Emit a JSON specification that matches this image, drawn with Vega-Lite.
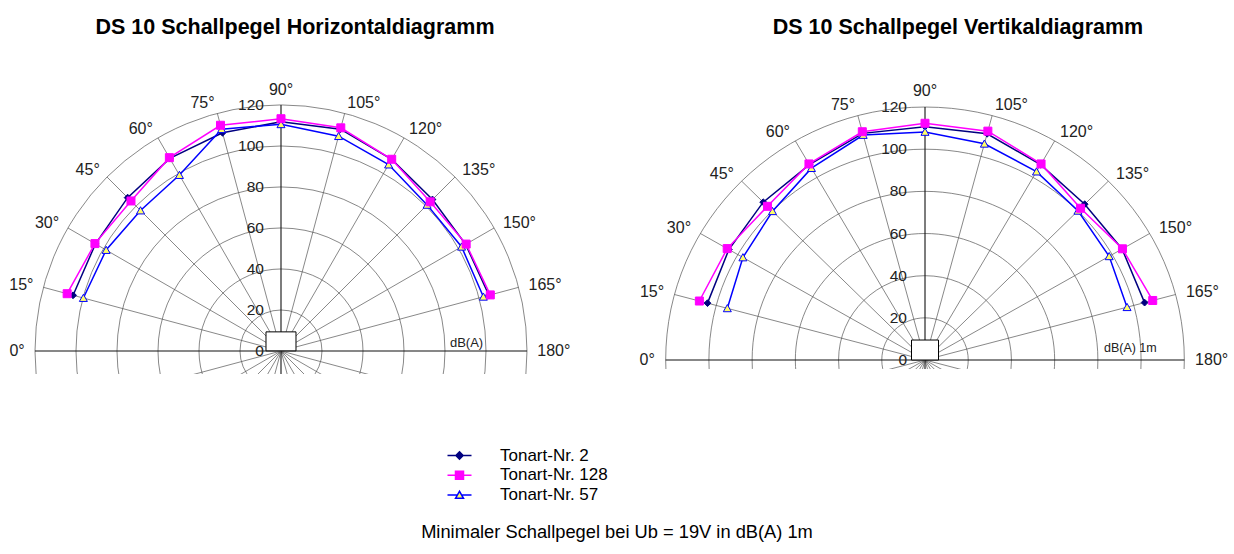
{
  "$schema": "https://vega.github.io/schema/vega-lite/v6.json",
  "padding": {"left": 0, "top": 16, "right": 0, "bottom": 0},
  "background": "white",
  "bounds": "flush",
  "spacing": 60,
  "config": {
    "view": {"stroke": null},
    "font": "Liberation Sans",
    "legend": {
      "orient": "none", "legendX": 451, "legendY": 386, "padding": 0,
      "labelFont": "Liberation Sans", "labelFontSize": 17, "labelColor": "black",
      "symbolSize": 64, "symbolStrokeWidth": 1.5, "symbolOpacity": 1,
      "labelOffset": 32, "rowPadding": 1.8
    }
  },
  "title": {"text": "Minimaler Schallpegel bei Ub = 19V in dB(A) 1m", "orient": "bottom", "anchor": "middle", "font": "Liberation Sans", "fontSize": 18.3, "fontWeight": "normal", "color": "black", "offset": 20},
  "resolve": {"scale": {"size": "independent"}},
  "datasets": {
    "rings": [{"r": 0}, {"r": 20}, {"r": 40}, {"r": 60}, {"r": 80}, {"r": 100}, {"r": 120}],
    "spokes": [{"angle": 0}, {"angle": 15}, {"angle": 30}, {"angle": 45}, {"angle": 60}, {"angle": 75}, {"angle": 90}, {"angle": 105}, {"angle": 120}, {"angle": 135}, {"angle": 150}, {"angle": 165}, {"angle": 180}, {"angle": 195}, {"angle": 210}, {"angle": 225}, {"angle": 240}, {"angle": 255}, {"angle": 270}, {"angle": 285}, {"angle": 300}, {"angle": 315}, {"angle": 330}, {"angle": 345}],
    "angles": [{"angle": 0, "label": "0°"}, {"angle": 15, "label": "15°"}, {"angle": 30, "label": "30°"}, {"angle": 45, "label": "45°"}, {"angle": 60, "label": "60°"}, {"angle": 75, "label": "75°"}, {"angle": 90, "label": "90°"}, {"angle": 105, "label": "105°"}, {"angle": 120, "label": "120°"}, {"angle": 135, "label": "135°"}, {"angle": 150, "label": "150°"}, {"angle": 165, "label": "165°"}, {"angle": 180, "label": "180°"}],
    "horizontal": [
      {"series": "Tonart-Nr. 2", "angle": 15, "db": 105.0}, {"series": "Tonart-Nr. 2", "angle": 30, "db": 104.5}, {"series": "Tonart-Nr. 2", "angle": 45, "db": 105.8}, {"series": "Tonart-Nr. 2", "angle": 60, "db": 108.5}, {"series": "Tonart-Nr. 2", "angle": 75, "db": 110.2}, {"series": "Tonart-Nr. 2", "angle": 90, "db": 111.8}, {"series": "Tonart-Nr. 2", "angle": 105, "db": 112.0}, {"series": "Tonart-Nr. 2", "angle": 120, "db": 108.0}, {"series": "Tonart-Nr. 2", "angle": 135, "db": 104.5}, {"series": "Tonart-Nr. 2", "angle": 150, "db": 104.0}, {"series": "Tonart-Nr. 2", "angle": 165, "db": 105.0},
      {"series": "Tonart-Nr. 57", "angle": 15, "db": 99.8}, {"series": "Tonart-Nr. 57", "angle": 30, "db": 98.5}, {"series": "Tonart-Nr. 57", "angle": 45, "db": 96.9}, {"series": "Tonart-Nr. 57", "angle": 60, "db": 99.1}, {"series": "Tonart-Nr. 57", "angle": 75, "db": 112.0}, {"series": "Tonart-Nr. 57", "angle": 90, "db": 110.6}, {"series": "Tonart-Nr. 57", "angle": 105, "db": 108.5}, {"series": "Tonart-Nr. 57", "angle": 120, "db": 105.0}, {"series": "Tonart-Nr. 57", "angle": 135, "db": 100.8}, {"series": "Tonart-Nr. 57", "angle": 150, "db": 101.7}, {"series": "Tonart-Nr. 57", "angle": 165, "db": 102.2},
      {"series": "Tonart-Nr. 128", "angle": 15, "db": 108.0}, {"series": "Tonart-Nr. 128", "angle": 30, "db": 104.8}, {"series": "Tonart-Nr. 128", "angle": 45, "db": 103.5}, {"series": "Tonart-Nr. 128", "angle": 60, "db": 108.9}, {"series": "Tonart-Nr. 128", "angle": 75, "db": 114.0}, {"series": "Tonart-Nr. 128", "angle": 90, "db": 113.3}, {"series": "Tonart-Nr. 128", "angle": 105, "db": 112.7}, {"series": "Tonart-Nr. 128", "angle": 120, "db": 108.0}, {"series": "Tonart-Nr. 128", "angle": 135, "db": 102.9}, {"series": "Tonart-Nr. 128", "angle": 150, "db": 104.3}, {"series": "Tonart-Nr. 128", "angle": 165, "db": 105.7}
    ],
    "vertical": [
      {"series": "Tonart-Nr. 2", "angle": 15, "db": 104.2}, {"series": "Tonart-Nr. 2", "angle": 30, "db": 104.8}, {"series": "Tonart-Nr. 2", "angle": 45, "db": 105.9}, {"series": "Tonart-Nr. 2", "angle": 60, "db": 107.0}, {"series": "Tonart-Nr. 2", "angle": 75, "db": 111.3}, {"series": "Tonart-Nr. 2", "angle": 90, "db": 110.7}, {"series": "Tonart-Nr. 2", "angle": 105, "db": 111.1}, {"series": "Tonart-Nr. 2", "angle": 120, "db": 107.0}, {"series": "Tonart-Nr. 2", "angle": 135, "db": 104.5}, {"series": "Tonart-Nr. 2", "angle": 150, "db": 105.3}, {"series": "Tonart-Nr. 2", "angle": 165, "db": 105.2},
      {"series": "Tonart-Nr. 57", "angle": 15, "db": 94.7}, {"series": "Tonart-Nr. 57", "angle": 30, "db": 97.3}, {"series": "Tonart-Nr. 57", "angle": 45, "db": 99.8}, {"series": "Tonart-Nr. 57", "angle": 60, "db": 105.1}, {"series": "Tonart-Nr. 57", "angle": 75, "db": 110.5}, {"series": "Tonart-Nr. 57", "angle": 90, "db": 108.2}, {"series": "Tonart-Nr. 57", "angle": 105, "db": 106.2}, {"series": "Tonart-Nr. 57", "angle": 120, "db": 103.2}, {"series": "Tonart-Nr. 57", "angle": 135, "db": 100.1}, {"series": "Tonart-Nr. 57", "angle": 150, "db": 98.4}, {"series": "Tonart-Nr. 57", "angle": 165, "db": 96.8},
      {"series": "Tonart-Nr. 128", "angle": 15, "db": 108.1}, {"series": "Tonart-Nr. 128", "angle": 30, "db": 105.7}, {"series": "Tonart-Nr. 128", "angle": 45, "db": 103.1}, {"series": "Tonart-Nr. 128", "angle": 60, "db": 107.4}, {"series": "Tonart-Nr. 128", "angle": 75, "db": 112.1}, {"series": "Tonart-Nr. 128", "angle": 90, "db": 112.3}, {"series": "Tonart-Nr. 128", "angle": 105, "db": 112.4}, {"series": "Tonart-Nr. 128", "angle": 120, "db": 107.4}, {"series": "Tonart-Nr. 128", "angle": 135, "db": 101.8}, {"series": "Tonart-Nr. 128", "angle": 150, "db": 105.5}, {"series": "Tonart-Nr. 128", "angle": 165, "db": 109.1}
    ]
  },
  "hconcat": [
    {
      "width": 590, "height": 313,
      "title": {"text": "DS 10 Schallpegel Horizontaldiagramm", "anchor": "middle", "frame": "group", "font": "Liberation Sans", "fontSize": 21.5, "fontWeight": "bold", "color": "black", "baseline": "alphabetic", "offset": 6},
      "layer": [
        {
          "data": {"name": "rings"},
          "mark": {"type": "point", "shape": "circle", "filled": false, "stroke": "#555", "strokeWidth": 0.7, "opacity": 1, "clip": true},
          "encoding": {
            "x": {"datum": 0, "type": "quantitative", "scale": {"domain": [-137.073, 150.732], "nice": false, "zero": false}, "axis": null},
            "y": {"datum": 0, "type": "quantitative", "scale": {"domain": [-11.22, 141.46], "nice": false, "zero": false}, "axis": null},
            "size": {"field": "r", "type": "quantitative", "scale": {"type": "pow", "exponent": 2, "domain": [0, 120], "range": [0, 242064]}, "legend": null}
          }
        },
        {
          "data": {"name": "spokes"},
          "transform": [{"calculate": "-120*cos(datum.angle*PI/180)", "as": "sx"}, {"calculate": "120*sin(datum.angle*PI/180)", "as": "sy"}],
          "mark": {"type": "rule", "clip": true},
          "encoding": {
            "x": {"field": "sx", "type": "quantitative"}, "y": {"field": "sy", "type": "quantitative"},
            "x2": {"datum": 0}, "y2": {"datum": 0},
            "color": {"condition": {"test": "datum.angle % 90 === 0", "value": "#111"}, "value": "#555"},
            "strokeWidth": {"condition": {"test": "datum.angle % 90 === 0", "value": 1.1}, "value": 0.7}
          }
        },
        {
          "data": {"values": [{}]},
          "mark": {"type": "point", "shape": "M-1,-0.633H1V0.633H-1Z", "size": 900, "filled": true, "fill": "white", "stroke": "black", "strokeWidth": 1, "opacity": 1},
          "encoding": {"x": {"datum": 0, "type": "quantitative"}, "y": {"datum": 4.7, "type": "quantitative"}}
        },
        {
          "data": {"name": "rings"},
          "mark": {"type": "text", "align": "right", "baseline": "middle", "dx": -17, "fontSize": 15.5, "color": "#222"},
          "encoding": {"x": {"datum": 0, "type": "quantitative"}, "y": {"field": "r", "type": "quantitative"}, "text": {"field": "r", "type": "quantitative"}}
        },
        {
          "data": {"name": "angles"},
          "transform": [{"filter": "datum.angle < 90"}, {"calculate": "-125*cos(datum.angle*PI/180)", "as": "lx"}, {"calculate": "125*sin(datum.angle*PI/180)", "as": "ly"}],
          "mark": {"type": "text", "align": "right", "baseline": "middle", "fontSize": 16, "color": "#222"},
          "encoding": {"x": {"field": "lx", "type": "quantitative"}, "y": {"field": "ly", "type": "quantitative"}, "text": {"field": "label", "type": "nominal"}}
        },
        {
          "data": {"name": "angles"},
          "transform": [{"filter": "datum.angle == 90"}, {"calculate": "-125*cos(datum.angle*PI/180)", "as": "lx"}, {"calculate": "125*sin(datum.angle*PI/180)", "as": "ly"}],
          "mark": {"type": "text", "align": "center", "baseline": "alphabetic", "fontSize": 16, "color": "#222"},
          "encoding": {"x": {"field": "lx", "type": "quantitative"}, "y": {"field": "ly", "type": "quantitative"}, "text": {"field": "label", "type": "nominal"}}
        },
        {
          "data": {"name": "angles"},
          "transform": [{"filter": "datum.angle > 90"}, {"calculate": "-125*cos(datum.angle*PI/180)", "as": "lx"}, {"calculate": "125*sin(datum.angle*PI/180)", "as": "ly"}],
          "mark": {"type": "text", "align": "left", "baseline": "middle", "fontSize": 16, "color": "#222"},
          "encoding": {"x": {"field": "lx", "type": "quantitative"}, "y": {"field": "ly", "type": "quantitative"}, "text": {"field": "label", "type": "nominal"}}
        },
        {
          "data": {"values": [{}]},
          "mark": {"type": "text", "align": "left", "baseline": "middle", "fontSize": 13, "color": "#222", "text": "dB(A)"},
          "encoding": {"x": {"datum": 82.4, "type": "quantitative"}, "y": {"datum": 4, "type": "quantitative"}}
        },
        {
          "data": {"name": "horizontal"},
          "transform": [{"calculate": "-datum.db*cos(datum.angle*PI/180)", "as": "px"}, {"calculate": "datum.db*sin(datum.angle*PI/180)", "as": "py"}],
          "mark": {"type": "line", "strokeWidth": 1.5},
          "encoding": {
            "x": {"field": "px", "type": "quantitative"}, "y": {"field": "py", "type": "quantitative"},
            "order": {"field": "angle", "type": "quantitative"},
            "stroke": {"field": "series", "type": "nominal", "title": null, "scale": {"domain": ["Tonart-Nr. 2", "Tonart-Nr. 128", "Tonart-Nr. 57"], "range": ["#000080", "#ff00ff", "#0000ff"]}}
          }
        },
        {
          "data": {"name": "horizontal"},
          "transform": [{"filter": "datum.series === 'Tonart-Nr. 2'"}, {"calculate": "-datum.db*cos(datum.angle*PI/180)", "as": "px"}, {"calculate": "datum.db*sin(datum.angle*PI/180)", "as": "py"}],
          "mark": {"type": "point", "shape": "M0,-0.85L0.85,0L0,0.85L-0.85,0Z", "filled": true, "fill": "#000080", "stroke": "#000080", "opacity": 1, "strokeWidth": 1, "size": 64},
          "encoding": {"x": {"field": "px", "type": "quantitative"}, "y": {"field": "py", "type": "quantitative"}}
        },
        {
          "data": {"name": "horizontal"},
          "transform": [{"filter": "datum.series === 'Tonart-Nr. 57'"}, {"calculate": "-datum.db*cos(datum.angle*PI/180)", "as": "px"}, {"calculate": "datum.db*sin(datum.angle*PI/180)", "as": "py"}],
          "mark": {"type": "point", "shape": "M-1,0.85L0,-0.95L1,0.85Z", "filled": true, "fill": "#ffff66", "stroke": "#0000ff", "opacity": 1, "strokeWidth": 1, "size": 64},
          "encoding": {"x": {"field": "px", "type": "quantitative"}, "y": {"field": "py", "type": "quantitative"}}
        },
        {
          "data": {"name": "horizontal"},
          "transform": [{"filter": "datum.series === 'Tonart-Nr. 128'"}, {"calculate": "-datum.db*cos(datum.angle*PI/180)", "as": "px"}, {"calculate": "datum.db*sin(datum.angle*PI/180)", "as": "py"}],
          "mark": {"type": "point", "shape": "M-1,-1H1V1H-1Z", "filled": true, "fill": "#ff00ff", "stroke": "#ff00ff", "opacity": 1, "strokeWidth": 1, "size": 64},
          "encoding": {"x": {"field": "px", "type": "quantitative"}, "y": {"field": "py", "type": "quantitative"}}
        },
        {
          "data": {"name": "horizontal"},
          "transform": [{"filter": "false"}],
          "mark": {"type": "point", "filled": true, "opacity": 1, "strokeWidth": 1.5, "size": 64},
          "encoding": {
            "x": {"field": "angle", "type": "quantitative"}, "y": {"field": "db", "type": "quantitative"},
            "stroke": {"field": "series", "type": "nominal", "title": null, "scale": {"domain": ["Tonart-Nr. 2", "Tonart-Nr. 128", "Tonart-Nr. 57"], "range": ["#000080", "#ff00ff", "#0000ff"]}},
            "fill": {"field": "series", "type": "nominal", "title": null, "scale": {"domain": ["Tonart-Nr. 2", "Tonart-Nr. 128", "Tonart-Nr. 57"], "range": ["#000080", "#ff00ff", "#ffff66"]}},
            "shape": {"field": "series", "type": "nominal", "title": null, "scale": {"domain": ["Tonart-Nr. 2", "Tonart-Nr. 128", "Tonart-Nr. 57"], "range": ["M-3,0H3M0,-0.9L0.9,0L0,0.9L-0.9,0Z", "M-3,0H3M-1,-1H1V1H-1Z", "M-3,0H-0.54M0.54,0H3M-1,0.8L0,-0.95L1,0.8Z"]}}
          }
        }
      ]
    },
    {
      "width": 584, "height": 308,
      "title": {"text": "DS 10 Schallpegel Vertikaldiagramm", "anchor": "middle", "frame": "group", "dx": 16, "font": "Liberation Sans", "fontSize": 21.5, "fontWeight": "bold", "color": "black", "baseline": "alphabetic", "offset": 6},
      "layer": [
        {
          "data": {"name": "rings"},
          "mark": {"type": "point", "shape": "M-1,0C-1,-0.5388,-0.5523,-0.9755,0,-0.9755C0.5523,-0.9755,1,-0.5388,1,0C1,0.5388,0.5523,0.9755,0,0.9755C-0.5523,0.9755,-1,0.5388,-1,0Z", "filled": false, "stroke": "#555", "strokeWidth": 0.7, "opacity": 1, "clip": true},
          "encoding": {
            "x": {"datum": 0, "type": "quantitative", "scale": {"domain": [-127.26, 142.99], "nice": false, "zero": false}, "axis": null},
            "y": {"datum": 0, "type": "quantitative", "scale": {"domain": [-4.27, 141.84], "nice": false, "zero": false}, "axis": null},
            "size": {"field": "r", "type": "quantitative", "scale": {"type": "pow", "exponent": 2, "domain": [0, 120], "range": [0, 268987]}, "legend": null}
          }
        },
        {
          "data": {"name": "spokes"},
          "transform": [{"calculate": "-120*cos(datum.angle*PI/180)", "as": "sx"}, {"calculate": "120*sin(datum.angle*PI/180)", "as": "sy"}],
          "mark": {"type": "rule", "clip": true},
          "encoding": {
            "x": {"field": "sx", "type": "quantitative"}, "y": {"field": "sy", "type": "quantitative"},
            "x2": {"datum": 0}, "y2": {"datum": 0},
            "color": {"condition": {"test": "datum.angle % 90 === 0", "value": "#111"}, "value": "#555"},
            "strokeWidth": {"condition": {"test": "datum.angle % 90 === 0", "value": 1.1}, "value": 0.7}
          }
        },
        {
          "data": {"values": [{}]},
          "mark": {"type": "point", "shape": "M-1,-0.74H1V0.74H-1Z", "size": 729, "filled": true, "fill": "white", "stroke": "black", "strokeWidth": 1, "opacity": 1},
          "encoding": {"x": {"datum": 0, "type": "quantitative"}, "y": {"datum": 4.74, "type": "quantitative"}}
        },
        {
          "data": {"name": "rings"},
          "mark": {"type": "text", "align": "right", "baseline": "middle", "dx": -18, "fontSize": 15.5, "color": "#222"},
          "encoding": {"x": {"datum": 0, "type": "quantitative"}, "y": {"field": "r", "type": "quantitative"}, "text": {"field": "r", "type": "quantitative"}}
        },
        {
          "data": {"name": "angles"},
          "transform": [{"filter": "datum.angle < 90"}, {"calculate": "-125*cos(datum.angle*PI/180)", "as": "lx"}, {"calculate": "125*sin(datum.angle*PI/180)", "as": "ly"}],
          "mark": {"type": "text", "align": "right", "baseline": "middle", "fontSize": 16, "color": "#222"},
          "encoding": {"x": {"field": "lx", "type": "quantitative"}, "y": {"field": "ly", "type": "quantitative"}, "text": {"field": "label", "type": "nominal"}}
        },
        {
          "data": {"name": "angles"},
          "transform": [{"filter": "datum.angle == 90"}, {"calculate": "-125*cos(datum.angle*PI/180)", "as": "lx"}, {"calculate": "125*sin(datum.angle*PI/180)", "as": "ly"}],
          "mark": {"type": "text", "align": "center", "baseline": "alphabetic", "fontSize": 16, "color": "#222"},
          "encoding": {"x": {"field": "lx", "type": "quantitative"}, "y": {"field": "ly", "type": "quantitative"}, "text": {"field": "label", "type": "nominal"}}
        },
        {
          "data": {"name": "angles"},
          "transform": [{"filter": "datum.angle > 90"}, {"calculate": "-125*cos(datum.angle*PI/180)", "as": "lx"}, {"calculate": "125*sin(datum.angle*PI/180)", "as": "ly"}],
          "mark": {"type": "text", "align": "left", "baseline": "middle", "fontSize": 16, "color": "#222"},
          "encoding": {"x": {"field": "lx", "type": "quantitative"}, "y": {"field": "ly", "type": "quantitative"}, "text": {"field": "label", "type": "nominal"}}
        },
        {
          "data": {"values": [{}]},
          "mark": {"type": "text", "align": "left", "baseline": "middle", "fontSize": 12.5, "color": "#222", "text": "dB(A) 1m"},
          "encoding": {"x": {"datum": 82.8, "type": "quantitative"}, "y": {"datum": 5.8, "type": "quantitative"}}
        },
        {
          "data": {"name": "vertical"},
          "transform": [{"calculate": "-datum.db*cos(datum.angle*PI/180)", "as": "px"}, {"calculate": "datum.db*sin(datum.angle*PI/180)", "as": "py"}],
          "mark": {"type": "line", "strokeWidth": 1.5},
          "encoding": {
            "x": {"field": "px", "type": "quantitative"}, "y": {"field": "py", "type": "quantitative"},
            "order": {"field": "angle", "type": "quantitative"},
            "stroke": {"field": "series", "type": "nominal", "title": null, "scale": {"domain": ["Tonart-Nr. 2", "Tonart-Nr. 128", "Tonart-Nr. 57"], "range": ["#000080", "#ff00ff", "#0000ff"]}}
          }
        },
        {
          "data": {"name": "vertical"},
          "transform": [{"filter": "datum.series === 'Tonart-Nr. 2'"}, {"calculate": "-datum.db*cos(datum.angle*PI/180)", "as": "px"}, {"calculate": "datum.db*sin(datum.angle*PI/180)", "as": "py"}],
          "mark": {"type": "point", "shape": "M0,-0.85L0.85,0L0,0.85L-0.85,0Z", "filled": true, "fill": "#000080", "stroke": "#000080", "opacity": 1, "strokeWidth": 1, "size": 64},
          "encoding": {"x": {"field": "px", "type": "quantitative"}, "y": {"field": "py", "type": "quantitative"}}
        },
        {
          "data": {"name": "vertical"},
          "transform": [{"filter": "datum.series === 'Tonart-Nr. 57'"}, {"calculate": "-datum.db*cos(datum.angle*PI/180)", "as": "px"}, {"calculate": "datum.db*sin(datum.angle*PI/180)", "as": "py"}],
          "mark": {"type": "point", "shape": "M-1,0.85L0,-0.95L1,0.85Z", "filled": true, "fill": "#ffff66", "stroke": "#0000ff", "opacity": 1, "strokeWidth": 1, "size": 64},
          "encoding": {"x": {"field": "px", "type": "quantitative"}, "y": {"field": "py", "type": "quantitative"}}
        },
        {
          "data": {"name": "vertical"},
          "transform": [{"filter": "datum.series === 'Tonart-Nr. 128'"}, {"calculate": "-datum.db*cos(datum.angle*PI/180)", "as": "px"}, {"calculate": "datum.db*sin(datum.angle*PI/180)", "as": "py"}],
          "mark": {"type": "point", "shape": "M-1,-1H1V1H-1Z", "filled": true, "fill": "#ff00ff", "stroke": "#ff00ff", "opacity": 1, "strokeWidth": 1, "size": 64},
          "encoding": {"x": {"field": "px", "type": "quantitative"}, "y": {"field": "py", "type": "quantitative"}}
        }
      ]
    }
  ]
}
